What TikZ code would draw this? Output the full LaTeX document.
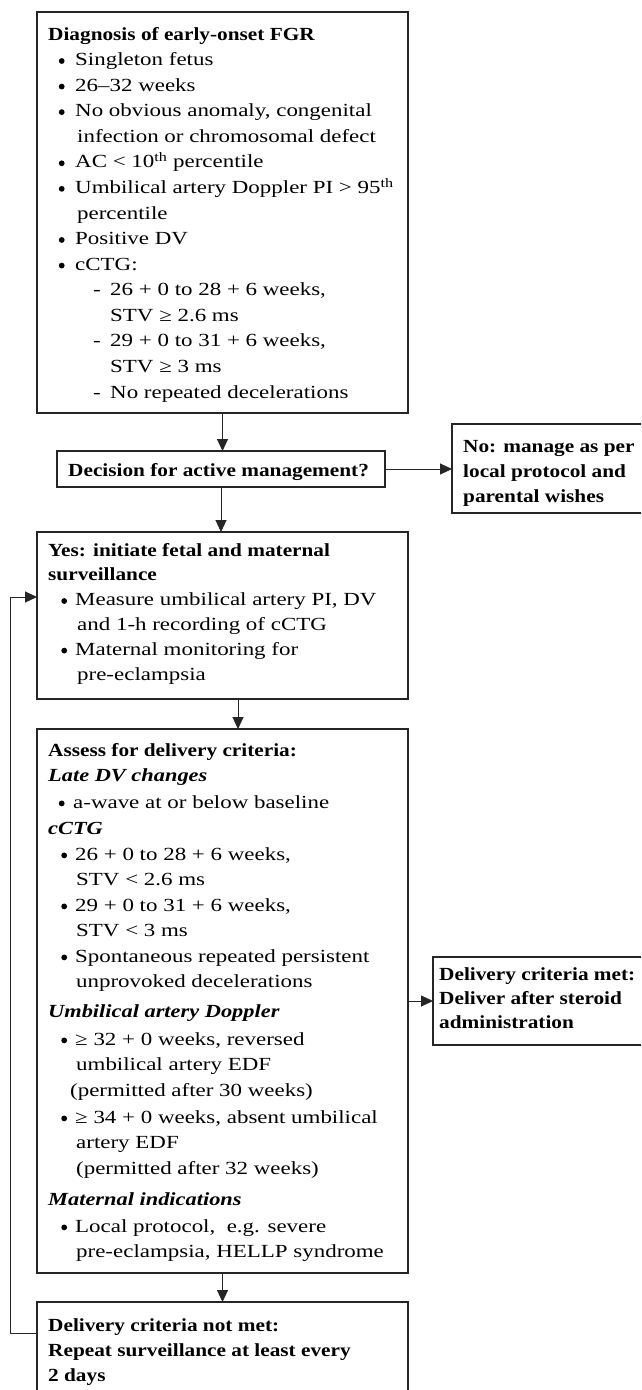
\documentclass[tikz,border=0pt]{standalone}
\usepackage{fontspec}
\setmainfont{Liberation Serif}[
  UprightFeatures={FakeStretch=1.24},
  ItalicFeatures={FakeStretch=1.2},
  BoldFeatures={FakeStretch=1.15},
  BoldItalicFeatures={FakeStretch=1.21}]
\usetikzlibrary{arrows.meta}
\newcommand\dotb{\tikz[baseline=0pt]{\path (0pt,0pt) (6pt,0pt);\fill[black] (3pt,4.6pt) circle[radius=2.9pt];}}
\newcommand\bul[2][8pt]{\makebox[#2][r]{\dotb\hspace{#1}}}
\newcommand\ind[1]{\hspace*{#1}}
\newcommand\dsh{\makebox[62pt][l]{\hspace{45pt}-}}
\newcommand\supth{\textsuperscript{th}}
\begin{document}
\begin{tikzpicture}[x=1pt,y=-1pt,
  box/.style={draw=black!85,line width=1.15pt,inner sep=0pt,outer sep=0pt,anchor=north west},
  txt/.style={inner sep=0pt,align=left,anchor=base west,text=black},
  arr/.style={draw=black!85,line width=1pt,-{Triangle[length=12pt,width=11pt]}}]
\useasboundingbox (0,0) rectangle (641,1390);
\clip (0,0) rectangle (641,1390);
\fill[white] (0,0) rectangle (641,1390);
% boxes
\node[box,minimum width=371pt,minimum height=401pt] (b1) at (37,12) {};
\node[box,minimum width=328pt,minimum height=36pt] (dec) at (57,451) {};
\node[box,minimum width=260pt,minimum height=89pt] (no) at (452,424) {};
\node[box,minimum width=371pt,minimum height=167pt] (yes) at (37,532) {};
\node[box,minimum width=371pt,minimum height=544pt] (as) at (37,729) {};
\node[box,minimum width=260pt,minimum height=88pt] (met) at (433,957) {};
\node[box,minimum width=371pt,minimum height=120pt] (nm) at (37,1302) {};
% texts (anchored at the baseline of their last line)
\node[txt,font=\fontsize{18.5}{25.57}\selectfont] (t1) at (48,398) {%
\textbf{Diagnosis of early-onset FGR}\\
\bul[10.5pt]{27pt}Singleton fetus\\
\bul[10.5pt]{27pt}26–32 weeks\\
\bul[10.5pt]{27pt}No obvious anomaly, congenital\\
\ind{29pt}infection or chromosomal defect\\
\bul[10.5pt]{27pt}AC < 10\supth{} percentile\\
\bul[10.5pt]{27pt}Umbilical artery Doppler PI > 95\supth\\
\ind{29pt}percentile\\
\bul[10.5pt]{27pt}Positive DV\\
\bul[10.5pt]{27pt}cCTG:\\
\dsh 26 + 0 to 28 + 6 weeks,\\
\ind{62pt}STV ≥ 2.6 ms\\
\dsh 29 + 0 to 31 + 6 weeks,\\
\ind{62pt}STV ≥ 3 ms\\
\dsh No repeated decelerations};
\node[txt,font=\fontsize{18.5}{25}\selectfont] (t2) at (68,476) {\textbf{Decision for active management?}};
\node[txt,font=\fontsize{18.5}{25}\selectfont] (t3) at (463,502) {%
\textbf{No: manage as per}\\
\textbf{local protocol and}\\
\textbf{parental wishes}};
\node[txt,font=\fontsize{18.5}{24.8}\selectfont] (t4) at (48,680) {%
\textbf{Yes: initiate fetal and maternal}\\
\textbf{surveillance}\\
\bul{27pt}Measure umbilical artery PI, DV\\
\ind{29pt}and 1-h recording of cCTG\\
\bul{27pt}Maternal monitoring for\\
\ind{29pt}pre-eclampsia};
\node[txt,font=\fontsize{18.5}{25}\selectfont] (t5) at (48,1257) {%
\textbf{Assess for delivery criteria:}\\
\textbf{\textit{Late DV changes}}\\[2pt]
\bul[8.5pt]{25pt}a-wave at or below baseline\\[1pt]
\textbf{\textit{cCTG}}\\[1pt]
\bul{27pt}26 + 0 to 28 + 6 weeks,\\
\ind{28pt}STV < 2.6 ms\\[1pt]
\bul{27pt}29 + 0 to 31 + 6 weeks,\\
\ind{28pt}STV < 3 ms\\[1pt]
\bul{27pt}Spontaneous repeated persistent\\
\ind{28pt}unprovoked decelerations\\[5pt]
\textbf{\textit{Umbilical artery Doppler}}\\[3pt]
\bul{27pt}≥ 32 + 0 weeks, reversed\\
\ind{28pt}umbilical artery EDF\\[1pt]
\ind{22pt}(permitted after 30 weeks)\\[2pt]
\bul{27pt}≥ 34 + 0 weeks, absent umbilical\\
\ind{28pt}artery EDF\\[1pt]
\ind{28pt}(permitted after 32 weeks)\\[6pt]
\textbf{\textit{Maternal indications}}\\[2pt]
\bul{27pt}Local protocol,\ \ e.g. severe\\
\ind{28pt}pre-eclampsia, HELLP syndrome};
\node[txt,font=\fontsize{18.5}{24}\selectfont] (t6) at (439,1028) {%
\textbf{Delivery criteria met:}\\
\textbf{Deliver after steroid}\\
\textbf{administration}};
\node[txt,font=\fontsize{18.5}{25}\selectfont] (t7) at (48,1381) {%
\textbf{Delivery criteria not met:}\\
\textbf{Repeat surveillance at least every}\\
\textbf{2 days}};
% connectors
\draw[arr] (b1.south) -- (b1.south |- dec.north);
\draw[arr] (dec.east) -- (no.west |- dec.east);
\draw[arr] (dec.south) -- (dec.south |- yes.north);
\draw[arr] ([xshift=15.5pt]yes.south) -- ([xshift=15.5pt]yes.south |- as.north);
\draw[arr] (as.east |- met.west) -- (met.west);
\draw[arr] (as.south) -- (as.south |- nm.north);
\draw[arr] ([yshift=29pt]nm.west) -- ++(-27,0) |- ([yshift=18.5pt]yes.west);
\end{tikzpicture}
\end{document}
